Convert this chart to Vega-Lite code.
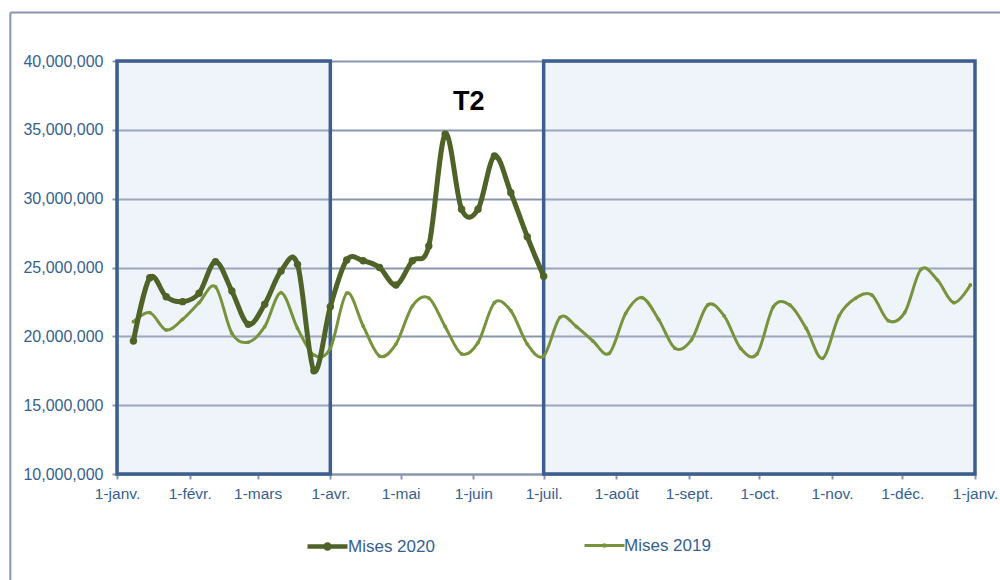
{
  "$schema": "https://vega.github.io/schema/vega-lite/v6.json",
  "width": 858,
  "height": 413,
  "autosize": {"type": "none"},
  "padding": {"left": 117, "top": 61, "right": 25, "bottom": 106},
  "background": "white",
  "config": {"view": {"stroke": null}, "font": "Liberation Sans"},
  "datasets": {
    "mises": [
      {"semaine": "2020-01-08", "serie": "Mises 2020", "mises": 19660000},
      {"semaine": "2020-01-15", "serie": "Mises 2020", "mises": 24260000},
      {"semaine": "2020-01-22", "serie": "Mises 2020", "mises": 22880000},
      {"semaine": "2020-01-29", "serie": "Mises 2020", "mises": 22520000},
      {"semaine": "2020-02-05", "serie": "Mises 2020", "mises": 23130000},
      {"semaine": "2020-02-12", "serie": "Mises 2020", "mises": 25420000},
      {"semaine": "2020-02-19", "serie": "Mises 2020", "mises": 23290000},
      {"semaine": "2020-02-26", "serie": "Mises 2020", "mises": 20870000},
      {"semaine": "2020-03-04", "serie": "Mises 2020", "mises": 22330000},
      {"semaine": "2020-03-11", "serie": "Mises 2020", "mises": 24750000},
      {"semaine": "2020-03-18", "serie": "Mises 2020", "mises": 25230000},
      {"semaine": "2020-03-25", "serie": "Mises 2020", "mises": 17500000},
      {"semaine": "2020-04-01", "serie": "Mises 2020", "mises": 22150000},
      {"semaine": "2020-04-08", "serie": "Mises 2020", "mises": 25540000},
      {"semaine": "2020-04-15", "serie": "Mises 2020", "mises": 25490000},
      {"semaine": "2020-04-22", "serie": "Mises 2020", "mises": 25000000},
      {"semaine": "2020-04-29", "serie": "Mises 2020", "mises": 23730000},
      {"semaine": "2020-05-06", "serie": "Mises 2020", "mises": 25490000},
      {"semaine": "2020-05-13", "serie": "Mises 2020", "mises": 26560000},
      {"semaine": "2020-05-20", "serie": "Mises 2020", "mises": 34680000},
      {"semaine": "2020-05-27", "serie": "Mises 2020", "mises": 29230000},
      {"semaine": "2020-06-03", "serie": "Mises 2020", "mises": 29230000},
      {"semaine": "2020-06-10", "serie": "Mises 2020", "mises": 33100000},
      {"semaine": "2020-06-17", "serie": "Mises 2020", "mises": 30430000},
      {"semaine": "2020-06-24", "serie": "Mises 2020", "mises": 27240000},
      {"semaine": "2020-07-01", "serie": "Mises 2020", "mises": 24360000},
      {"semaine": "2020-01-08", "serie": "Mises 2019", "mises": 21060000},
      {"semaine": "2020-01-15", "serie": "Mises 2019", "mises": 21720000},
      {"semaine": "2020-01-22", "serie": "Mises 2019", "mises": 20460000},
      {"semaine": "2020-01-29", "serie": "Mises 2019", "mises": 21240000},
      {"semaine": "2020-02-05", "serie": "Mises 2019", "mises": 22440000},
      {"semaine": "2020-02-12", "serie": "Mises 2019", "mises": 23600000},
      {"semaine": "2020-02-19", "serie": "Mises 2019", "mises": 20220000},
      {"semaine": "2020-02-26", "serie": "Mises 2019", "mises": 19570000},
      {"semaine": "2020-03-04", "serie": "Mises 2019", "mises": 20700000},
      {"semaine": "2020-03-11", "serie": "Mises 2019", "mises": 23170000},
      {"semaine": "2020-03-18", "serie": "Mises 2019", "mises": 20580000},
      {"semaine": "2020-03-25", "serie": "Mises 2019", "mises": 18640000},
      {"semaine": "2020-04-01", "serie": "Mises 2019", "mises": 19130000},
      {"semaine": "2020-04-08", "serie": "Mises 2019", "mises": 23130000},
      {"semaine": "2020-04-15", "serie": "Mises 2019", "mises": 20750000},
      {"semaine": "2020-04-22", "serie": "Mises 2019", "mises": 18570000},
      {"semaine": "2020-04-29", "serie": "Mises 2019", "mises": 19440000},
      {"semaine": "2020-05-06", "serie": "Mises 2019", "mises": 22200000},
      {"semaine": "2020-05-13", "serie": "Mises 2019", "mises": 22780000},
      {"semaine": "2020-05-20", "serie": "Mises 2019", "mises": 20700000},
      {"semaine": "2020-05-27", "serie": "Mises 2019", "mises": 18720000},
      {"semaine": "2020-06-03", "serie": "Mises 2019", "mises": 19540000},
      {"semaine": "2020-06-10", "serie": "Mises 2019", "mises": 22440000},
      {"semaine": "2020-06-17", "serie": "Mises 2019", "mises": 21860000},
      {"semaine": "2020-06-24", "serie": "Mises 2019", "mises": 19440000},
      {"semaine": "2020-07-01", "serie": "Mises 2019", "mises": 18570000},
      {"semaine": "2020-07-08", "serie": "Mises 2019", "mises": 21380000},
      {"semaine": "2020-07-15", "serie": "Mises 2019", "mises": 20700000},
      {"semaine": "2020-07-22", "serie": "Mises 2019", "mises": 19660000},
      {"semaine": "2020-07-29", "serie": "Mises 2019", "mises": 18770000},
      {"semaine": "2020-08-05", "serie": "Mises 2019", "mises": 21670000},
      {"semaine": "2020-08-12", "serie": "Mises 2019", "mises": 22810000},
      {"semaine": "2020-08-19", "serie": "Mises 2019", "mises": 21240000},
      {"semaine": "2020-08-26", "serie": "Mises 2019", "mises": 19130000},
      {"semaine": "2020-09-02", "serie": "Mises 2019", "mises": 19730000},
      {"semaine": "2020-09-09", "serie": "Mises 2019", "mises": 22280000},
      {"semaine": "2020-09-16", "serie": "Mises 2019", "mises": 21480000},
      {"semaine": "2020-09-23", "serie": "Mises 2019", "mises": 19130000},
      {"semaine": "2020-09-30", "serie": "Mises 2019", "mises": 18720000},
      {"semaine": "2020-10-07", "serie": "Mises 2019", "mises": 22150000},
      {"semaine": "2020-10-14", "serie": "Mises 2019", "mises": 22280000},
      {"semaine": "2020-10-21", "serie": "Mises 2019", "mises": 20580000},
      {"semaine": "2020-10-28", "serie": "Mises 2019", "mises": 18400000},
      {"semaine": "2020-11-04", "serie": "Mises 2019", "mises": 21480000},
      {"semaine": "2020-11-11", "serie": "Mises 2019", "mises": 22760000},
      {"semaine": "2020-11-18", "serie": "Mises 2019", "mises": 23000000},
      {"semaine": "2020-11-25", "serie": "Mises 2019", "mises": 21140000},
      {"semaine": "2020-12-02", "serie": "Mises 2019", "mises": 21720000},
      {"semaine": "2020-12-09", "serie": "Mises 2019", "mises": 24870000},
      {"semaine": "2020-12-16", "serie": "Mises 2019", "mises": 24090000},
      {"semaine": "2020-12-23", "serie": "Mises 2019", "mises": 22440000},
      {"semaine": "2020-12-30", "serie": "Mises 2019", "mises": 23730000}
    ],
    "trimestres": [
      {"debut": "2020-01-01", "fin": "2020-04-01"},
      {"debut": "2020-07-01", "fin": "2021-01-01"}
    ]
  },
  "resolve": {"scale": {"color": "independent"}, "legend": {"color": "independent"}},
  "layer": [
    {
      "description": "chart-area frame, left edge",
      "data": {"values": [{}]},
      "mark": {"type": "rule", "color": "#8A96AE", "strokeWidth": 2, "clip": false},
      "encoding": {
        "x": {"datum": 1573905600000, "type": "temporal"},
        "y": {"datum": 43520000, "type": "quantitative"},
        "y2": {"datum": 1000000}
      }
    },
    {
      "description": "chart-area frame, top edge",
      "data": {"values": [{}]},
      "mark": {"type": "rule", "color": "#8A96AE", "strokeWidth": 2, "clip": false},
      "encoding": {
        "x": {"datum": 1573905600000, "type": "temporal"},
        "x2": {"datum": 1612137600000},
        "y": {"datum": 43520000, "type": "quantitative"}
      }
    },
    {
      "data": {"name": "trimestres"},
      "mark": {"type": "rect", "fill": "#C5D3EC", "fillOpacity": 0.28, "stroke": "#3D5F8F", "strokeWidth": 3.5},
      "encoding": {
        "x": {"field": "debut", "type": "temporal"},
        "x2": {"field": "fin"},
        "y": {"datum": 10000000, "type": "quantitative"},
        "y2": {"datum": 40000000}
      }
    },
    {
      "data": {"name": "mises"},
      "transform": [{"filter": "datum.serie === 'Mises 2019'"}],
      "encoding": {
        "x": {
          "field": "semaine",
          "type": "temporal",
          "scale": {"type": "utc", "domain": [1577836800000, 1609459200000], "nice": false},
          "axis": {
            "title": null,
            "grid": false,
            "values": [
              {"year": 2020, "month": 1, "date": 1, "utc": true},
              {"year": 2020, "month": 2, "date": 1, "utc": true},
              {"year": 2020, "month": 3, "date": 1, "utc": true},
              {"year": 2020, "month": 4, "date": 1, "utc": true},
              {"year": 2020, "month": 5, "date": 1, "utc": true},
              {"year": 2020, "month": 6, "date": 1, "utc": true},
              {"year": 2020, "month": 7, "date": 1, "utc": true},
              {"year": 2020, "month": 8, "date": 1, "utc": true},
              {"year": 2020, "month": 9, "date": 1, "utc": true},
              {"year": 2020, "month": 10, "date": 1, "utc": true},
              {"year": 2020, "month": 11, "date": 1, "utc": true},
              {"year": 2020, "month": 12, "date": 1, "utc": true},
              {"year": 2021, "month": 1, "date": 1, "utc": true}
            ],
            "labelExpr": "'1-' + ['janv.','févr.','mars','avr.','mai','juin','juil.','août','sept.','oct.','nov.','déc.'][utcmonth(datum.value)]",
            "labelOverlap": false,
            "labelBound": false,
            "labelFlush": false,
            "labelFontSize": 15.5,
            "labelColor": "#365F91",
            "labelPadding": 7,
            "domainColor": "#8A96AE",
            "domainWidth": 2,
            "tickColor": "#8A96AE",
            "tickWidth": 2,
            "tickSize": 5
          }
        },
        "y": {
          "field": "mises",
          "type": "quantitative",
          "scale": {"domain": [10000000, 40000000], "nice": false, "zero": false},
          "axis": {
            "title": null,
            "values": [10000000, 15000000, 20000000, 25000000, 30000000, 35000000, 40000000],
            "format": ",d",
            "labelFontSize": 16,
            "labelColor": "#365F91",
            "labelPadding": 9,
            "grid": true,
            "gridColor": "#8A96AE",
            "gridWidth": 2,
            "domainColor": "#8A96AE",
            "domainWidth": 2,
            "tickColor": "#8A96AE",
            "tickWidth": 2,
            "tickSize": 5
          }
        },
        "color": {
          "field": "serie",
          "type": "nominal",
          "scale": {"domain": ["Mises 2019"], "range": ["#77933C"]},
          "legend": {
            "orient": "none",
            "legendX": 466,
            "legendY": 463,
            "title": null,
            "symbolType": "M-1,0H1M-0.04,0A0.04,0.04,0,1,0,0.04,0A0.04,0.04,0,1,0,-0.04,0Z",
            "symbolSize": 1600,
            "symbolStrokeWidth": 3,
            "symbolFillColor": "#77933C",
            "labelFontSize": 17,
            "labelColor": "#365F91",
            "labelOffset": -2
          }
        }
      },
      "layer": [
        {"mark": {"type": "line", "interpolate": "cardinal", "strokeWidth": 3}},
        {"mark": {"type": "point", "filled": true, "opacity": 1, "shape": "circle", "size": 14}}
      ]
    },
    {
      "data": {"name": "mises"},
      "transform": [{"filter": "datum.serie === 'Mises 2020'"}],
      "encoding": {
        "x": {"field": "semaine", "type": "temporal"},
        "y": {"field": "mises", "type": "quantitative"},
        "color": {
          "field": "serie",
          "type": "nominal",
          "scale": {"domain": ["Mises 2020"], "range": ["#4F6228"]},
          "legend": {
            "orient": "none",
            "legendX": 188,
            "legendY": 463,
            "title": null,
            "symbolType": "M-1,0H1M-0.1,0A0.1,0.1,0,1,0,0.1,0A0.1,0.1,0,1,0,-0.1,0Z",
            "symbolSize": 1600,
            "symbolStrokeWidth": 4.5,
            "symbolFillColor": "#4F6228",
            "labelFontSize": 17,
            "labelColor": "#365F91",
            "labelOffset": -2
          }
        }
      },
      "layer": [
        {"mark": {"type": "line", "interpolate": "cardinal", "strokeWidth": 5}},
        {"mark": {"type": "point", "filled": true, "opacity": 1, "shape": "circle", "size": 55}}
      ]
    },
    {
      "data": {"values": [{}]},
      "mark": {"type": "text", "fontSize": 27, "fontWeight": "bold", "color": "black", "baseline": "middle", "align": "center"},
      "encoding": {
        "x": {"datum": {"year": 2020, "month": 5, "date": 30, "utc": true}, "type": "temporal"},
        "y": {"datum": 37000000, "type": "quantitative"},
        "text": {"value": "T2"}
      }
    }
  ]
}
